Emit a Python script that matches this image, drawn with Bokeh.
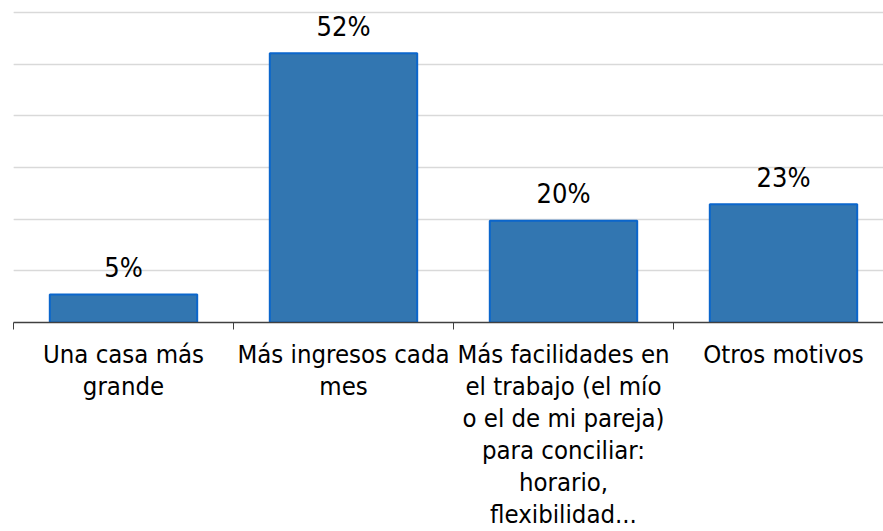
from bokeh.plotting import figure
from bokeh.models import Range1d, FixedTicker, Grid
from bokeh.core.properties import value
from bokeh.embed import file_html
from bokeh.resources import INLINE

categories = ["Una casa más\ngrande",
              "Más ingresos cada\nmes",
              "Más facilidades en\nel trabajo (el mío\no el de mi pareja)\npara conciliar:\nhorario,\nflexibilidad...",
              "Otros motivos"]
values = [5.4, 52.1, 19.7, 22.9]
grid_ticks = [10, 20, 30, 40, 50, 60]

FONT = "DejaVu Sans Condensed"

xs = [i + 0.5 for i in range(len(categories))]
labels = [f"{round(v)}%" for v in values]

FW = 870
FH = 312
p = figure(frame_width=FW, frame_height=FH,
           x_range=Range1d(0, FW / 220), y_range=Range1d(0, 60 * FH / 310),
           y_axis_location=None, output_backend="svg", toolbar_location=None,
           min_border_left=13, min_border_right=0, min_border_top=10, min_border_bottom=0)
p.outline_line_color = None
p.xgrid.visible = False
p.add_layout(Grid(dimension=1, ticker=FixedTicker(ticks=grid_ticks),
                  grid_line_color="#d9d9d9", grid_line_width=1.5))

p.vbar(x=xs, top=values, width=0.67, bottom=0,
       fill_color="#3276b1", line_color="#0b66cc", line_width=2)
p.text(x=xs, y=values, text=labels, text_align="center", text_baseline="alphabetic",
       y_offset=-27, text_font=value(FONT), text_font_size="27px", text_color="#000000")

ax = p.xaxis[0]
ax.ticker = FixedTicker(ticks=xs, minor_ticks=list(range(len(categories) + 1)))
ax.major_label_overrides = {x: c for x, c in zip(xs, categories)}
ax.major_tick_out = 0
ax.major_tick_in = 0
ax.minor_tick_out = 7
ax.minor_tick_in = 0
ax.minor_tick_line_color = "#404040"
ax.axis_line_color = "#404040"
ax.axis_line_width = 1.5
ax.major_label_standoff = 9
ax.major_label_text_font = FONT
ax.major_label_text_font_size = "25.5px"
ax.major_label_text_color = "#000000"
ax.major_label_text_line_height = 1.07

open("out.html", "w").write(file_html(p, INLINE))
